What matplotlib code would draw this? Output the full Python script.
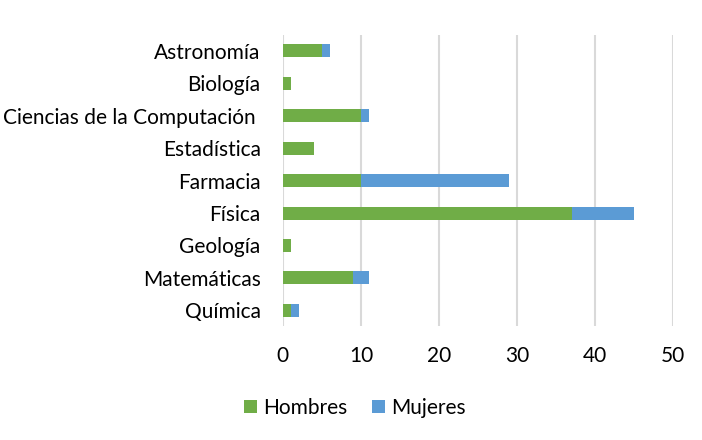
import numpy as np
import matplotlib.pyplot as plt

plt.rcParams['font.family'] = ['Lato', 'DejaVu Sans']

# datos
carreras = ['Astronomía', 'Biología', 'Ciencias de la Computación ', 'Estadística',
            'Farmacia', 'Física', 'Geología', 'Matemáticas', 'Química']
hombres = [5, 1, 10, 4, 10, 37, 1, 9, 1]
mujeres = [1, 0, 1, 0, 19, 8, 0, 2, 1]

verde = '#70AD47'
azul = '#5B9BD5'

fig = plt.figure(figsize=(7.02, 4.4), dpi=100)
ax = fig.add_axes([0.403, 0.258, 0.556, 0.663])

y = np.arange(len(carreras))
ax.barh(y, hombres, height=0.4, color=verde, label='Hombres', zorder=3)
ax.barh(y, mujeres, left=hombres, height=0.4, color=azul, label='Mujeres', zorder=3)

ax.set_yticks(y)
ax.set_yticklabels(carreras, fontsize=15)
ax.set_ylim(len(carreras) - 0.5, -0.5)
ax.set_xlim(0, 50)
ax.set_xticks(range(0, 51, 10))
ax.tick_params(axis='x', labelsize=15, length=0, pad=14)
ax.tick_params(axis='y', length=0, pad=16)
ax.grid(axis='x', color='#D9D9D9', linewidth=1.5, zorder=0)
for s in ax.spines.values():
    s.set_visible(False)

ax.legend(loc='center', bbox_to_anchor=(0.185, -0.28), ncol=2, frameon=False,
          fontsize=15, handlelength=0.6, handleheight=0.6, handletextpad=0.3,
          columnspacing=1.2)

fig.savefig('out.png', dpi=100)
